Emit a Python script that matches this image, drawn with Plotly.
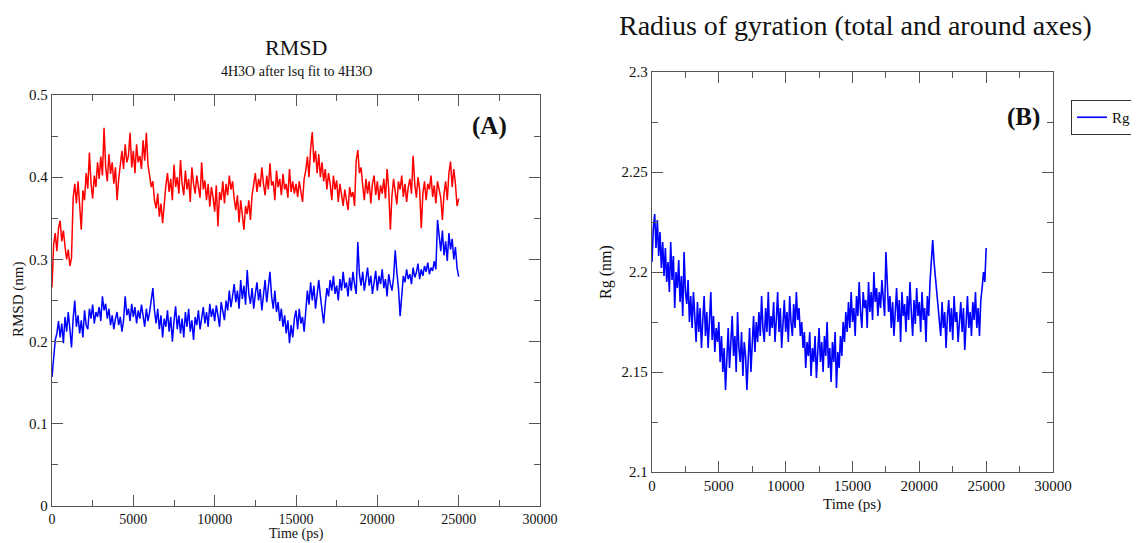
import numpy as np
import plotly.graph_objects as go

# ---------------- data ----------------
time_ps = list(range(0, 25001, 100))

rmsd_red = [
    0.266, 0.318, 0.332, 0.310, 0.338, 0.347, 0.322, 0.335, 0.316, 0.300,
    0.312, 0.292, 0.302, 0.375, 0.392, 0.368, 0.395, 0.358, 0.336, 0.384,
    0.372, 0.405, 0.386, 0.430, 0.392, 0.374, 0.402, 0.388, 0.418, 0.398,
    0.425, 0.402, 0.460, 0.412, 0.395, 0.428, 0.404, 0.418, 0.392, 0.412,
    0.372, 0.398, 0.415, 0.432, 0.410, 0.440, 0.418, 0.426, 0.454, 0.412,
    0.432, 0.405, 0.440, 0.418, 0.426, 0.410, 0.445, 0.420, 0.454, 0.415,
    0.402, 0.388, 0.395, 0.372, 0.362, 0.380, 0.352, 0.368, 0.344, 0.372,
    0.390, 0.405, 0.382, 0.398, 0.372, 0.415, 0.388, 0.400, 0.380, 0.421,
    0.392, 0.378, 0.408, 0.385, 0.398, 0.370, 0.412, 0.392, 0.380, 0.402,
    0.388, 0.375, 0.418, 0.385, 0.396, 0.372, 0.392, 0.364, 0.388, 0.376,
    0.358, 0.390, 0.340, 0.382, 0.372, 0.395, 0.368, 0.392, 0.378, 0.402,
    0.385, 0.395, 0.374, 0.360, 0.378, 0.345, 0.372, 0.352, 0.336, 0.365,
    0.355, 0.372, 0.348, 0.378, 0.392, 0.405, 0.382, 0.398, 0.388, 0.412,
    0.392, 0.378, 0.402, 0.385, 0.417, 0.390, 0.395, 0.372, 0.408, 0.388,
    0.398, 0.378, 0.404, 0.385, 0.392, 0.375, 0.410, 0.382, 0.395, 0.380,
    0.392, 0.376, 0.395, 0.384, 0.370, 0.398, 0.408, 0.425, 0.400, 0.435,
    0.455, 0.418, 0.432, 0.405, 0.428, 0.400, 0.418, 0.395, 0.410, 0.385,
    0.405, 0.392, 0.372, 0.402, 0.385, 0.396, 0.370, 0.392, 0.380, 0.365,
    0.385, 0.372, 0.360, 0.388, 0.376, 0.382, 0.365, 0.420, 0.433, 0.405,
    0.412, 0.390, 0.372, 0.398, 0.380, 0.395, 0.368, 0.392, 0.402, 0.378,
    0.395, 0.372, 0.390, 0.380, 0.398, 0.374, 0.410, 0.385, 0.336, 0.378,
    0.398, 0.382, 0.367, 0.395, 0.385, 0.402, 0.376, 0.392, 0.370, 0.388,
    0.398, 0.380, 0.426, 0.392, 0.375, 0.400, 0.385, 0.338, 0.380, 0.395,
    0.372, 0.392, 0.385, 0.402, 0.376, 0.390, 0.368, 0.395, 0.382, 0.375,
    0.348, 0.380, 0.395, 0.372, 0.405, 0.419, 0.388, 0.410, 0.392, 0.365,
    0.374,
]

rmsd_blue = [
    0.157, 0.185, 0.202, 0.210, 0.225, 0.205, 0.222, 0.198, 0.230, 0.212,
    0.236, 0.215, 0.193, 0.228, 0.250, 0.218, 0.232, 0.210, 0.226, 0.205,
    0.238, 0.220, 0.215, 0.240, 0.228, 0.245, 0.222, 0.236, 0.230, 0.242,
    0.225, 0.255, 0.238, 0.246, 0.228, 0.240, 0.220, 0.232, 0.215, 0.228,
    0.236, 0.220, 0.230, 0.212, 0.226, 0.255, 0.232, 0.240, 0.225, 0.246,
    0.230, 0.242, 0.222, 0.238, 0.228, 0.245, 0.232, 0.218, 0.240, 0.225,
    0.236, 0.250, 0.265, 0.238, 0.222, 0.240, 0.215, 0.232, 0.205, 0.228,
    0.218, 0.238, 0.212, 0.230, 0.200, 0.225, 0.243, 0.215, 0.232, 0.210,
    0.228, 0.205, 0.236, 0.218, 0.240, 0.212, 0.226, 0.202, 0.230, 0.220,
    0.238, 0.215, 0.228, 0.242, 0.222, 0.236, 0.218, 0.246, 0.230, 0.240,
    0.225, 0.244, 0.232, 0.218, 0.248, 0.235, 0.226, 0.250, 0.238, 0.262,
    0.242, 0.255, 0.270, 0.248, 0.262, 0.240, 0.275, 0.252, 0.268, 0.245,
    0.287, 0.258, 0.246, 0.265, 0.240, 0.258, 0.272, 0.250, 0.264, 0.238,
    0.256, 0.275, 0.248, 0.268, 0.285, 0.255, 0.240, 0.262, 0.236, 0.248,
    0.225, 0.240, 0.218, 0.232, 0.210, 0.226, 0.198, 0.220, 0.205, 0.228,
    0.238, 0.215, 0.240, 0.222, 0.230, 0.212, 0.235, 0.262, 0.245, 0.272,
    0.250, 0.268, 0.240, 0.262, 0.275, 0.255, 0.235, 0.222, 0.246, 0.265,
    0.255, 0.275, 0.262, 0.280, 0.258, 0.268, 0.250, 0.276, 0.262, 0.285,
    0.265, 0.272, 0.255, 0.278, 0.262, 0.285, 0.270, 0.258, 0.321, 0.282,
    0.268, 0.285, 0.262, 0.278, 0.290, 0.268, 0.280, 0.258, 0.275, 0.286,
    0.262, 0.280, 0.270, 0.288, 0.265, 0.276, 0.255, 0.282, 0.270, 0.262,
    0.278, 0.311, 0.284, 0.265, 0.231, 0.262, 0.280, 0.272, 0.288, 0.276,
    0.282, 0.270, 0.290, 0.278, 0.284, 0.295, 0.276, 0.288, 0.280, 0.292,
    0.285, 0.296, 0.282, 0.290, 0.286, 0.298, 0.288, 0.348, 0.330, 0.310,
    0.335, 0.305, 0.322, 0.298, 0.332, 0.312, 0.325, 0.300, 0.315, 0.290,
    0.279,
]

rg = [
    2.205, 2.222, 2.229, 2.212, 2.226, 2.208, 2.220, 2.202, 2.215, 2.198,
    2.212, 2.195, 2.205, 2.190, 2.215, 2.196, 2.208, 2.182, 2.200, 2.192,
    2.206, 2.185, 2.198, 2.178, 2.210, 2.190, 2.184, 2.196, 2.175, 2.188,
    2.172, 2.190, 2.178, 2.165, 2.185, 2.170, 2.182, 2.162, 2.176, 2.188,
    2.168, 2.180, 2.162, 2.175, 2.190, 2.166, 2.178, 2.160, 2.172, 2.165,
    2.175, 2.155, 2.168, 2.150, 2.162, 2.141, 2.158, 2.172, 2.152, 2.165,
    2.178, 2.158, 2.168, 2.150, 2.180, 2.162, 2.155, 2.170, 2.148, 2.165,
    2.158, 2.141, 2.162, 2.172, 2.150, 2.168, 2.178, 2.160, 2.175, 2.165,
    2.180, 2.168, 2.188, 2.172, 2.165, 2.182, 2.170, 2.190, 2.168, 2.178,
    2.172, 2.185, 2.165, 2.176, 2.190, 2.170, 2.182, 2.162, 2.178, 2.186,
    2.170, 2.180, 2.165, 2.188, 2.175, 2.168, 2.184, 2.172, 2.190, 2.176,
    2.182, 2.168, 2.175, 2.162, 2.170, 2.152, 2.165, 2.158, 2.170, 2.148,
    2.162, 2.155, 2.168, 2.147, 2.160, 2.172, 2.155, 2.165, 2.150, 2.168,
    2.158, 2.175, 2.152, 2.162, 2.145, 2.165, 2.155, 2.170, 2.142, 2.160,
    2.152, 2.168, 2.158, 2.175, 2.165, 2.180, 2.170, 2.185, 2.172, 2.190,
    2.175, 2.182, 2.168, 2.188, 2.178, 2.195, 2.180, 2.172, 2.190, 2.182,
    2.186, 2.172, 2.195, 2.180, 2.190, 2.176, 2.200, 2.185, 2.192, 2.178,
    2.190, 2.182, 2.196, 2.185, 2.178, 2.210, 2.192, 2.180, 2.188, 2.172,
    2.185, 2.168, 2.180, 2.192, 2.175, 2.186, 2.165, 2.190, 2.178, 2.184,
    2.170, 2.188, 2.176, 2.195, 2.180, 2.168, 2.186, 2.174, 2.192, 2.178,
    2.185, 2.170, 2.190, 2.176, 2.182, 2.165, 2.188, 2.178, 2.195, 2.205,
    2.216, 2.205, 2.198, 2.190, 2.180, 2.176, 2.168, 2.185, 2.172, 2.180,
    2.162, 2.178, 2.186, 2.170, 2.182, 2.166, 2.188, 2.175, 2.180, 2.165,
    2.178, 2.185, 2.170, 2.182, 2.161, 2.176, 2.188, 2.172, 2.180, 2.168,
    2.185, 2.176, 2.190, 2.172, 2.182, 2.168, 2.186, 2.192, 2.200, 2.195,
    2.212,
]

x_ticks = [0, 5000, 10000, 15000, 20000, 25000, 30000]
x_ticklabels = ["0", "5000", "10000", "15000", "20000", "25000", "30000"]
rmsd_ticks = [0, 0.1, 0.2, 0.3, 0.4, 0.5]
rmsd_ticklabels = ["0", "0.1", "0.2", "0.3", "0.4", "0.5"]
rg_ticks = [2.1, 2.15, 2.2, 2.25, 2.3]
rg_ticklabels = ["2.1", "2.15", "2.2", "2.25", "2.3"]

# ---------------- figure ----------------
W, H = 1139, 543
OX, OY = 8, 8          # page body margin offsets the figure
SERIF = "Liberation Serif, Times New Roman, Tinos, serif"
AXC = "#555555"

fig = go.Figure()
fig.add_trace(go.Scatter(x=time_ps, y=rmsd_red, mode="lines",
                         line=dict(color="#ff0000", width=1.5),
                         showlegend=False, xaxis="x", yaxis="y"))
fig.add_trace(go.Scatter(x=time_ps, y=rmsd_blue, mode="lines",
                         line=dict(color="#0000ff", width=1.5),
                         showlegend=False, xaxis="x", yaxis="y"))
fig.add_trace(go.Scatter(x=time_ps, y=rg, mode="lines", name="Rg",
                         line=dict(color="#0000ff", width=1.6),
                         showlegend=True, xaxis="x2", yaxis="y2"))


def px(x):
    return (x - OX) / W


def py(y):
    return (H - (y - OY)) / H


def px_dom_x(a, b):
    return [px(a), px(b)]


def px_dom_y(top, bottom):
    return [py(bottom), py(top)]


def axis_common(size):
    return dict(
        showline=True, linecolor=AXC, linewidth=1.3, mirror="ticks",
        ticks="inside", ticklen=11, tickwidth=1.3, tickcolor=AXC,
        showgrid=False, zeroline=False, automargin=False,
        tickfont=dict(family=SERIF, size=size, color="#111111"),
    )


def minor(dt, t0=0):
    return dict(dtick=dt, tick0=t0, ticks="inside", ticklen=6,
                tickcolor=AXC, tickwidth=1.3)


fig.update_layout(
    width=W, height=H, autosize=False,
    margin=dict(l=0, r=0, t=0, b=0),
    paper_bgcolor="white", plot_bgcolor="white",
    xaxis=dict(domain=px_dom_x(52, 540), range=[0, 30000],
               tickvals=x_ticks, ticktext=x_ticklabels, ticklabelstandoff=0,
               minor=minor(2500), anchor="y", **axis_common(14)),
    yaxis=dict(domain=px_dom_y(95, 506), range=[0, 0.5],
               tickvals=rmsd_ticks, ticktext=rmsd_ticklabels,
               minor=minor(0.05), anchor="x", **axis_common(15)),
    xaxis2=dict(domain=px_dom_x(652, 1053), range=[0, 30000],
                tickvals=x_ticks, ticktext=x_ticklabels, ticklabelstandoff=0,
                minor=minor(2500), anchor="y2", **axis_common(15)),
    yaxis2=dict(domain=px_dom_y(72, 472), range=[2.1, 2.3],
                tickvals=rg_ticks, ticktext=rg_ticklabels,
                minor=minor(0.025, 2.1), anchor="x2", **axis_common(15)),
    legend=dict(x=px(1071), y=py(100), xanchor="left", yanchor="top",
                bordercolor="#333333", borderwidth=1, bgcolor="white",
                itemwidth=30,
                font=dict(family=SERIF, size=15, color="#111111")),
)

ann = [
    dict(text="RMSD", x=296, y=47, size=22),
    dict(text="4H3O after lsq fit to 4H3O", x=296, y=71, size=14),
    dict(text="Time (ps)", x=296, y=534, size=14),
    dict(text="Radius of gyration (total and around axes)", x=856, y=25, size=28),
    dict(text="Time (ps)", x=852, y=504, size=15),
    dict(text="<b>(A)</b>", x=489, y=126, size=25),
    dict(text="<b>(B)</b>", x=1024, y=117, size=25),
]
for a in ann:
    fig.add_annotation(text=a["text"], x=px(a["x"]), y=py(a["y"]), xref="paper",
                       yref="paper", showarrow=False, xanchor="center",
                       yanchor="middle",
                       font=dict(family=SERIF, size=a["size"], color="#111111"))

fig.add_annotation(text="RMSD (nm)", x=px(18), y=py(300), xref="paper",
                   yref="paper", showarrow=False, textangle=-90,
                   xanchor="center", yanchor="middle",
                   font=dict(family=SERIF, size=15, color="#111111"))
fig.add_annotation(text="Rg (nm)", x=px(606), y=py(272), xref="paper",
                   yref="paper", showarrow=False, textangle=-90,
                   xanchor="center", yanchor="middle",
                   font=dict(family=SERIF, size=16, color="#111111"))

fig.write_html("out.html")
